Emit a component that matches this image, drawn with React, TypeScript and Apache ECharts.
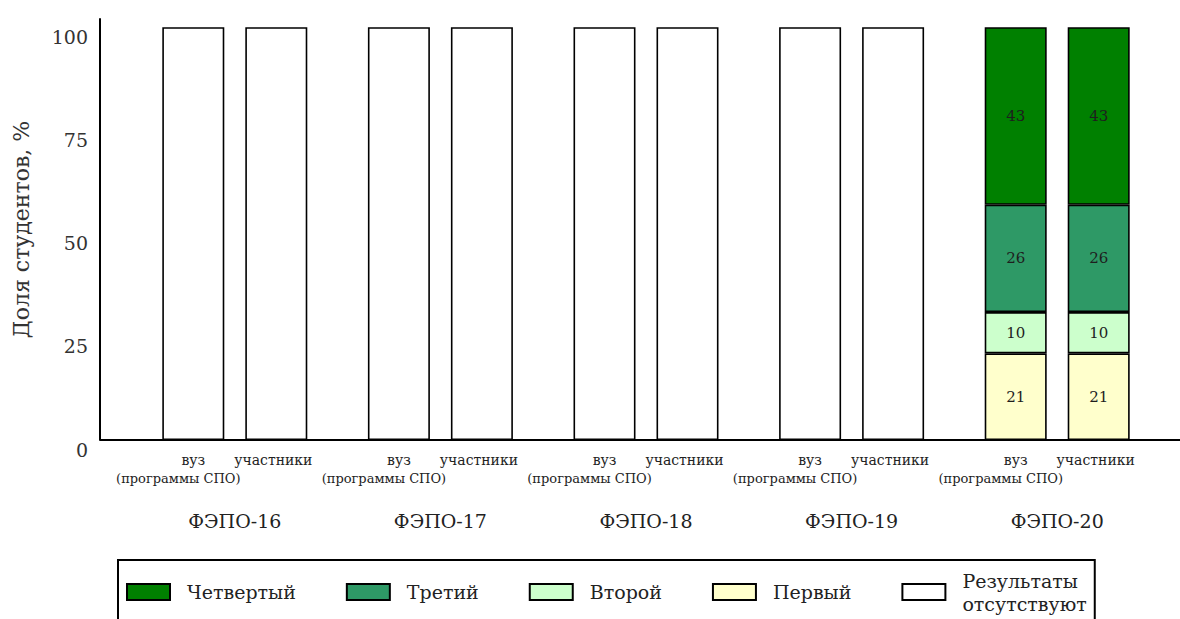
import React, { useEffect, useRef } from 'react';
import * as echarts from 'echarts';

const categories = ['ФЭПО-16', 'ФЭПО-17', 'ФЭПО-18', 'ФЭПО-19', 'ФЭПО-20'];
const subLabelLeft = 'вуз';
const subLabelLeftSecond = '(программы СПО)';
const subLabelRight = 'участники';

const levelNames = ['Первый', 'Второй', 'Третий', 'Четвертый'];
const noResultsName = 'Результаты\nотсутствуют';
const legendOrder = ['Четвертый', 'Третий', 'Второй', 'Первый', noResultsName];

// вуз (программы СПО)
const vuzFirst = [null, null, null, null, 21];
const vuzSecond = [null, null, null, null, 10];
const vuzThird = [null, null, null, null, 26];
const vuzFourth = [null, null, null, null, 43];
const vuzNoResults = [100, 100, 100, 100, null];

// участники
const uchFirst = [null, null, null, null, 21];
const uchSecond = [null, null, null, null, 10];
const uchThird = [null, null, null, null, 26];
const uchFourth = [null, null, null, null, 43];
const uchNoResults = [100, 100, 100, 100, null];

const yMin = 0;
const yMax = 102;
const yInterval = 25;

const levelColors = ['#ffffcc', '#ccffcc', '#2e9966', '#008000'];
const noResultsColor = '#ffffff';
const FONT = '"DejaVu Serif", serif';
const BAR_WIDTH = 62;
const BAR_GAP = 21;

export default function App() {
  const ref = useRef<HTMLDivElement>(null);
  useEffect(() => {
    if (!ref.current) return;
    const chart = echarts.init(ref.current, undefined, { renderer: 'svg' });

    const stacks: { id: string; data: (number | null)[][] }[] = [
      { id: 'vuz', data: [vuzFirst, vuzSecond, vuzThird, vuzFourth, vuzNoResults] },
      { id: 'uch', data: [uchFirst, uchSecond, uchThird, uchFourth, uchNoResults] },
    ];
    const series: any[] = [];
    stacks.forEach((s) => {
      s.data.forEach((d, i) => {
        const isLevel = i < 4;
        series.push({
          type: 'bar',
          name: isLevel ? levelNames[i] : noResultsName,
          stack: s.id,
          data: d,
          barWidth: BAR_WIDTH,
          barGap: `${(BAR_GAP / BAR_WIDTH) * 100}%`,
          itemStyle: {
            color: isLevel ? levelColors[i] : noResultsColor,
            borderColor: '#000',
            borderWidth: 1.6,
          },
          label: {
            show: isLevel,
            position: 'inside',
            fontFamily: FONT,
            fontSize: 15,
            color: '#1e1e1e',
          },
        });
      });
    });

    chart.setOption({
      animation: false,
      backgroundColor: '#ffffff',
      grid: { left: 132, right: 20, top: 19, bottom: 179 },
      legend: {
        data: legendOrder,
        left: 118,
        top: 560,
        orient: 'horizontal',
        itemWidth: 43,
        itemHeight: 16,
        itemGap: 50,
        borderColor: '#000',
        borderWidth: 2,
        borderRadius: 0,
        padding: [9, 8, 24, 8],
        icon: 'rect',
        selectedMode: false,
        textStyle: {
          fontFamily: FONT,
          fontSize: 19,
          color: '#222',
          padding: [0, 0, 0, 12],
          lineHeight: 23,
        },
      },
      xAxis: {
        type: 'category',
        data: categories,
        axisLine: { show: false },
        axisTick: { show: false },
        axisLabel: {
          margin: 71,
          fontFamily: FONT,
          fontSize: 19,
          color: '#222',
        },
      },
      yAxis: {
        type: 'value',
        min: yMin,
        max: yMax,
        interval: yInterval,
        offset: 32,
        name: 'Доля студентов, %',
        nameLocation: 'middle',
        nameGap: 68,
        nameRotate: 90,
        nameTextStyle: { fontFamily: FONT, fontSize: 22, color: '#333' },
        axisLine: { show: true, lineStyle: { color: '#000', width: 2 } },
        axisTick: { show: false },
        splitLine: { show: false },
        axisLabel: {
          showMaxLabel: false,
          margin: 12,
          fontFamily: FONT,
          fontSize: 19,
          color: '#333',
          verticalAlign: 'top',
          formatter: (v: number) => (v % yInterval === 0 ? String(v) : ''),
        },
      },
      series,
    });

    const half = (BAR_WIDTH + BAR_GAP) / 2;
    const y0 = chart.convertToPixel({ yAxisIndex: 0 }, 0) as number;
    const graphics: any[] = [
      {
        type: 'line',
        shape: { x1: 100, y1: y0, x2: 1180, y2: y0 },
        style: { stroke: '#000', lineWidth: 2 },
        z: 10,
      },
    ];
    categories.forEach((c) => {
      const cx = chart.convertToPixel({ xAxisIndex: 0 }, c) as number;
      const base = { fill: '#222', align: 'center', verticalAlign: 'middle' };
      graphics.push(
        { type: 'text', x: cx - half, y: y0 + 20, style: { ...base, font: `14px ${FONT}`, text: subLabelLeft } },
        { type: 'text', x: cx + half - 3, y: y0 + 20, style: { ...base, font: `14px ${FONT}`, text: subLabelRight } },
        { type: 'text', x: cx - half - 15, y: y0 + 38, style: { ...base, font: `13px ${FONT}`, text: subLabelLeftSecond } },
      );
    });
    chart.setOption({ graphic: graphics });

    return () => chart.dispose();
  }, []);
  return (
    <div
      ref={ref}
      style={{ position: 'fixed', left: 0, top: 0, width: 1180, height: 619, background: '#fff' }}
    />
  );
}
